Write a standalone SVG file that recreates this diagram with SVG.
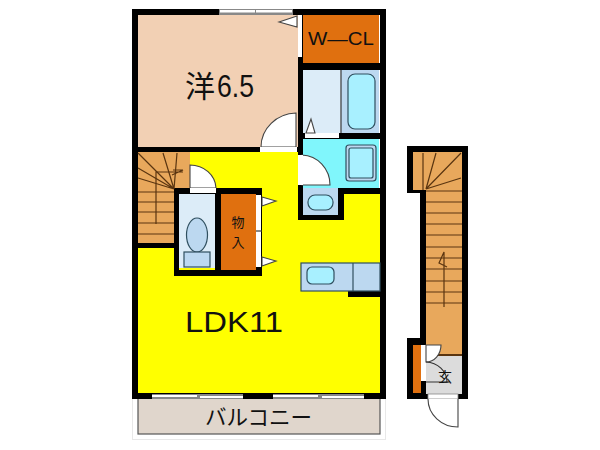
<svg xmlns="http://www.w3.org/2000/svg" width="600" height="450" viewBox="0 0 600 450">
<defs><style>
.w{fill:#000}
.l{fill:none;stroke:#3a3a3a;stroke-width:1.2}
.s{fill:none;stroke:#5a3510;stroke-width:1.2}
.d{fill:#fff;stroke:#444;stroke-width:1.1}
.f{fill:#fff}
.g{fill:#888}
.b{stroke:#2f4f5f;stroke-width:1.2}
text{font-family:"Liberation Sans","Noto Sans CJK JP",sans-serif;fill:#111}
.j{font-family:"Noto Sans CJK JP","Liberation Sans",sans-serif}
</style></defs>
<rect width="600" height="450" fill="#fff"/>
<!-- balcony -->
<rect x="132.500" y="395" width="253" height="44.500" fill="#fff" stroke="#e8e8e8"/>
<rect x="138" y="398" width="242" height="36" fill="#e0d6cc" stroke="#555" stroke-width="1.200"/>
<!-- room fills -->
<rect x="136" y="13" width="164" height="136" fill="#f2d0b4"/>
<rect x="136" y="150" width="165" height="245" fill="#ff0"/>
<rect x="300" y="192" width="82" height="203" fill="#ff0"/>
<rect x="303" y="15" width="76" height="48" fill="#e0700f"/>
<rect x="303" y="70" width="38" height="63" fill="#dcecf8"/>
<rect x="341" y="70" width="38" height="63" fill="#bcd8f0"/>
<rect x="303" y="139" width="76" height="49" fill="#80f6fc"/>
<rect x="303" y="188" width="35" height="27" fill="#bcd8f0"/>
<rect x="138" y="152" width="52" height="91" fill="#e8a85c"/>
<rect x="179" y="194" width="36" height="74" fill="#dcecf8"/>
<rect x="221" y="194" width="35" height="76" fill="#e0700f"/>
<!-- walls -->
<g class="w">
<rect x="132" y="9" width="254" height="6"/>
<rect x="132" y="9" width="6" height="390"/>
<rect x="380" y="9" width="6" height="390"/>
<rect x="132" y="393" width="254" height="6"/>
<rect x="298" y="9" width="5" height="211"/>
<rect x="298" y="63" width="82" height="7"/>
<rect x="298" y="133" width="82" height="6"/>
<rect x="132" y="147" width="171" height="5"/>
<rect x="338" y="188" width="42" height="6"/>
<rect x="338" y="188" width="6" height="32"/>
<rect x="298" y="215" width="46" height="5"/>
<rect x="132" y="243" width="44" height="5"/>
<rect x="174" y="188" width="88" height="6"/>
<rect x="174" y="188" width="5" height="88"/>
<rect x="215" y="188" width="6" height="88"/>
<rect x="174" y="270" width="88" height="6"/>
<rect x="256" y="188" width="6" height="88"/>
<rect x="348" y="291" width="32" height="6"/>
</g>
<!-- top window -->
<rect x="219" y="9" width="74" height="6" class="g"/>
<rect x="220" y="10" width="35" height="2.500" class="f"/>
<rect x="256" y="10" width="36" height="2.500" class="f"/>
<!-- bottom windows -->
<g>
<rect x="152" y="394" width="91" height="5" class="g"/>
<rect x="273" y="394" width="91" height="5" class="g"/>
<rect x="152" y="395" width="45" height="2" class="f"/>
<rect x="200" y="396" width="43" height="2" class="f"/>
<rect x="273" y="395" width="45" height="2" class="f"/>
<rect x="322" y="396" width="42" height="2" class="f"/>
</g>
<!-- W-CL door -->
<rect x="298" y="15" width="4" height="42" class="f"/>
<polygon points="279,22 297,16 297,27" class="d"/>
<!-- main room door -->
<path d="M261 147A36 34 0 0 1 296 113V147Z" class="d"/>
<rect x="260" y="147" width="37" height="5" class="f"/>
<!-- bath -->
<line x1="341" y1="70" x2="341" y2="133" class="l"/>
<rect x="348" y="74" width="27" height="55" rx="7" fill="#a8f0ff" class="b"/>
<rect x="305" y="133" width="34" height="5" class="f"/>
<polygon points="311,119 306,133 315,133" class="d"/>
<!-- laundry -->
<rect x="346" y="145" width="30" height="36" rx="3" fill="#bcd8f0" class="b"/>
<rect x="349" y="148" width="24" height="30" rx="2" fill="#a8f0ff" class="b"/>
<path d="M302 155A29 30 0 0 1 330 185H302Z" class="d"/>
<rect x="298" y="155" width="5" height="30" class="f"/>
<rect x="308" y="195" width="25" height="15" rx="7" fill="#a8f0ff" class="b"/>
<!-- toilet + door -->
<path d="M190 165A26 24 0 0 1 216 188H190Z" class="d"/>
<rect x="190" y="188" width="26" height="5" class="f"/>
<ellipse cx="197" cy="235" rx="10.500" ry="17" fill="#bcd8f0" class="b"/>
<rect x="184" y="252" width="26" height="15" fill="#bcd8f0" class="b"/>
<!-- closet doors -->
<rect x="256" y="195" width="5" height="72" class="f"/>
<line x1="256" y1="231" x2="262" y2="231" class="l"/>
<polygon points="262,197 276,201 262,206" class="d"/>
<polygon points="262,257 276,261 262,266" class="d"/>
<!-- stairs left -->
<g class="s">
<path d="M138 192H174M138 202H174M138 212H174M138 223H174M138 234H174"/>
<path d="M174 189L138 153M174 189L163 153M174 189L177 153M174 189L138 178M174 189L138 168"/>
<path d="M156 224V172H183M173 170L183 170L172 175"/>
</g>
<!-- kitchen -->
<rect x="301" y="263" width="79" height="28" fill="#bcd8f0" class="b"/>
<line x1="353" y1="263" x2="353" y2="291" class="b"/>
<rect x="307" y="267" width="27" height="17" rx="5" fill="#a8f0ff" class="b"/>
<!-- right stairs -->
<g id="stair-right">
<path d="M407 146H468V399H407V338H420V193H407Z" class="w"/>
<rect x="413" y="152" width="49" height="38" fill="#e8a85c"/>
<rect x="426" y="190" width="36" height="164" fill="#e8a85c"/>
<rect x="426" y="356" width="36" height="38" fill="#dcdcdc"/>
<rect x="426" y="354" width="36" height="2" fill="#5a3510"/>
<g class="s">
<path d="M423 153V190M426 189L436 153M426 189L461 153M426 189L461 178"/>
<path d="M426 191H462M426 202H462M426 213H462M426 224H462M426 235H462M426 247H462M426 258H462M426 269H462M426 281H462M426 292H462M426 303H462"/>
<path d="M447 267L439 263L444 252V307"/>
</g>
<rect x="413" y="345" width="8" height="48" fill="#e0700f"/>
<rect x="421" y="345" width="5" height="36" class="f"/>
<path d="M426 345H441A15 17 0 0 1 426 362Z" class="d"/>
<path d="M426 362A22 20 0 0 1 447 382H426" fill="none" stroke="#333" stroke-width="1.100"/>
<rect x="428" y="394" width="30" height="5" class="f" stroke="#888" stroke-width="0.800"/>
<path d="M428 399A30 28 0 0 0 458 427V399" class="d"/>
</g>
<!-- labels -->
<text x="185" y="97" font-size="30" class="j">洋</text>
<text x="217" y="97" font-size="31" textLength="37" lengthAdjust="spacingAndGlyphs">6.5</text>
<text x="308" y="44.500" font-size="18" textLength="66" lengthAdjust="spacingAndGlyphs">W—CL</text>
<text x="185" y="332" font-size="30" textLength="98" lengthAdjust="spacingAndGlyphs">LDK11</text>
<text x="238" y="227" font-size="13" text-anchor="middle" class="j">物</text>
<text x="238" y="246.500" font-size="13" text-anchor="middle" class="j">入</text>
<text x="445" y="382" font-size="14" text-anchor="middle" class="j">玄</text>
<text x="205" y="425" font-size="21.500" class="j">バルコニー</text>
</svg>
